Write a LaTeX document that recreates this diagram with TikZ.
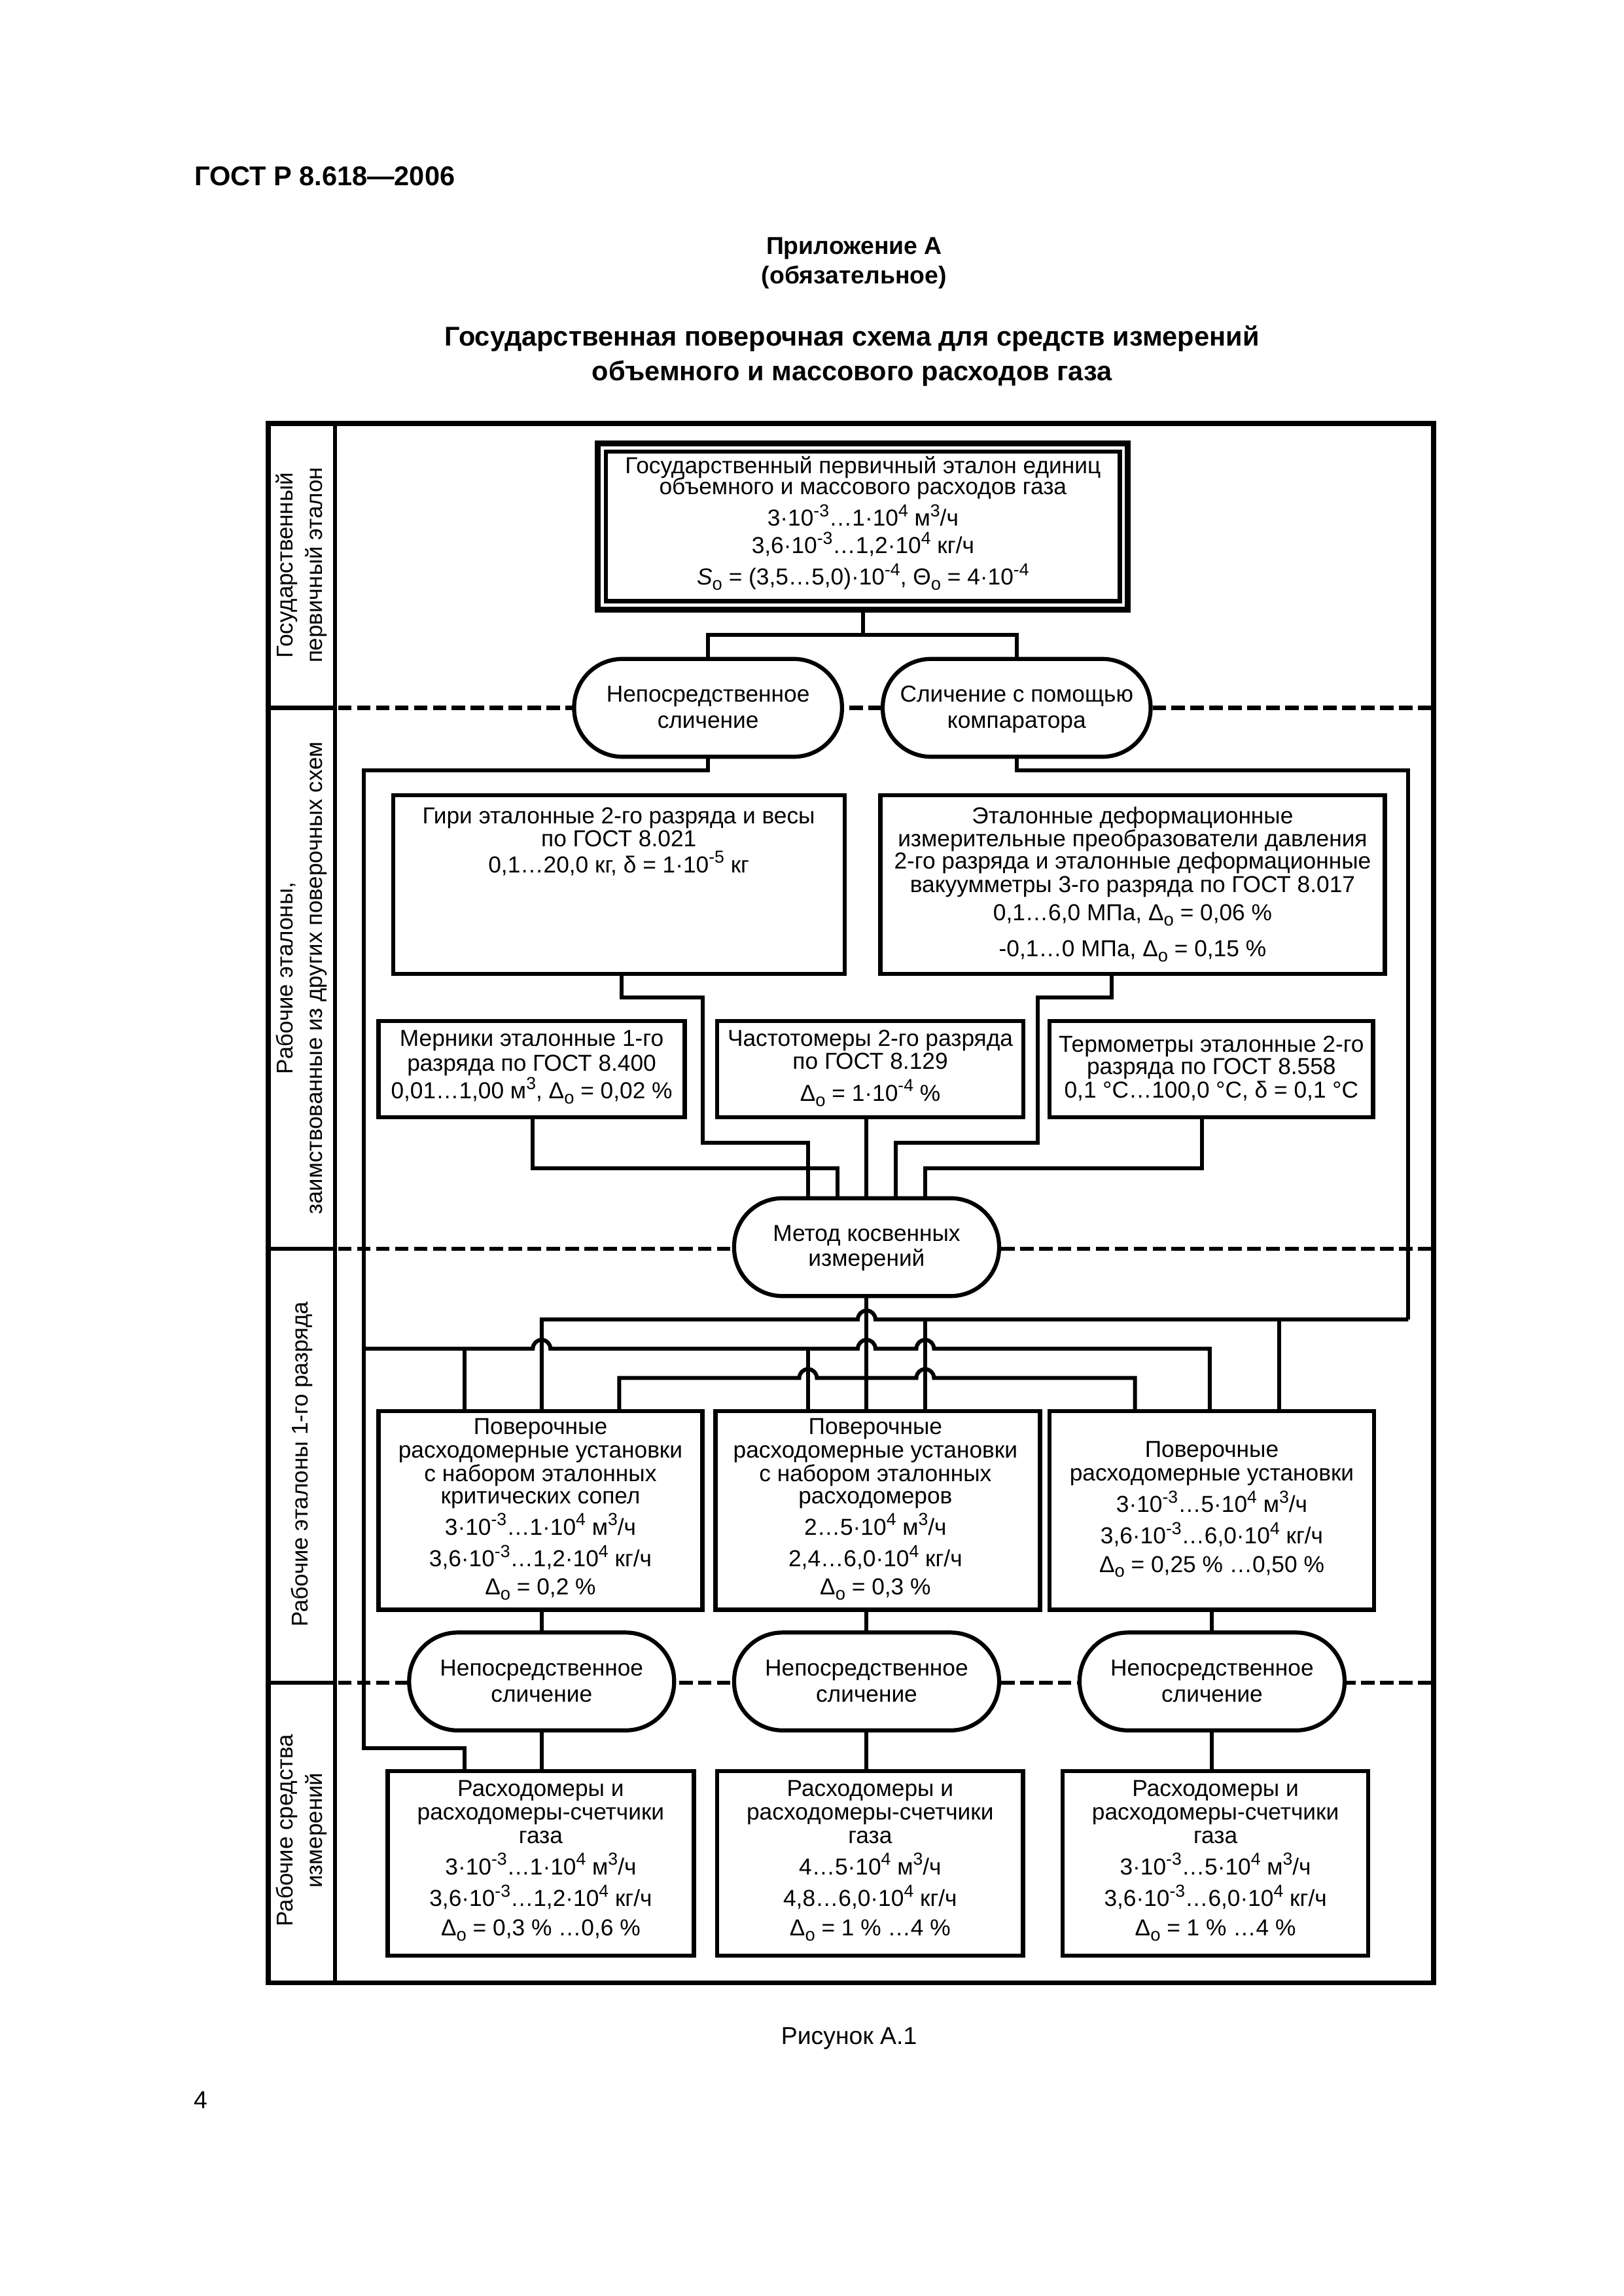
\documentclass[tikz,border=0pt]{standalone}
\usepackage{fontspec}
\setmainfont{Liberation Sans}
\usetikzlibrary{fit}
\newlength\U
\setlength\U{0.18936mm}
\newcommand\ts{\rule{0pt}{6.8pt}}
\newcommand\bxfont{\fontsize{8.5}{8.6}\selectfont\lineskiplimit=-100pt\relax}
\newcommand\lbfont{\fontsize{8.4}{10.7}\selectfont\lineskiplimit=-100pt\relax}
\newcommand\sups[1]{\raisebox{3.5pt}{\fontsize{6.4}{6.4}\selectfont #1}}
\newcommand\subs[1]{\raisebox{-1.9pt}{\fontsize{6.6}{6.6}\selectfont #1}}
\newcommand\dlt{Δ\subs{o}}
\begin{document}
\begin{tikzpicture}[x=0.18936mm,y=-0.18936mm,
  ln/.style={line width=1.5pt},
  frm/.style={line width=1.75pt},
  cn/.style={line width=1.45pt},
  dsh/.style={line width=1.5pt,dash pattern=on 1.75mm off 0.7mm},
  bx/.style={draw,line width=1.5pt,fill=white,inner sep=0pt,rectangle},
  ovl/.style={draw,line width=1.5pt,fill=white,rectangle,rounded corners=33*\U,inner sep=0pt,minimum height=66.8*\U,minimum width=182*\U},
  txt/.style={inner sep=0pt,align=center,anchor=north,font=\bxfont},
  lbl/.style={rotate=90,inner sep=0pt,align=center,font=\lbfont},
  hd/.style={inner sep=0pt,anchor=base},
  bumpr/.style 2 args={insert path={-- ({#1-6},#2) .. controls ({#1-6},{#2-3.3}) and ({#1-3.3},{#2-6}) .. ({#1},{#2-6}) .. controls ({#1+3.3},{#2-6}) and ({#1+6},{#2-3.3}) .. ({#1+6},#2)}}
]
\useasboundingbox (0,0) rectangle (1109,1568);

% page headings
\node[hd,anchor=base west,font=\bfseries\fontsize{10}{12}\selectfont] (gost) at (132.4,126.7) {ГОСТ Р 8.618—2006};
\node[hd,font=\bfseries\fontsize{9}{11}\selectfont] (app) at (583.5,173.6) {Приложение А};
\node[hd,font=\bfseries\fontsize{9}{11}\selectfont] (oblig) at (583.5,193.7) {(обязательное)};
\node[hd,font=\bfseries\fontsize{10}{12}\selectfont] (title1) at (582,236.2) {Государственная поверочная схема для средств измерений};
\node[hd,font=\bfseries\fontsize{10}{12}\selectfont] (title2) at (582,260) {объемного и массового расходов газа};
\node[hd,font=\fontsize{9}{11}\selectfont] (caption) at (580,1396) {Рисунок А.1};
\node[hd,font=\fontsize{9}{11}\selectfont] (pagenum) at (137,1440) {4};

% frame
\draw[frm] (183.3,289.2) rectangle (979.3,1354);
\draw[ln] (229,289.2) -- (229,1354);
\foreach \yy in {483.4,852.8,1149.2}{
  \draw[ln] (183.3,\yy) -- (229,\yy);
  \draw[dsh] (231,\yy) -- (979.3,\yy);
}

% section labels
\node[lbl] (lab1) at (206,386) {Государственный\\первичный эталон};
\node[lbl] (lab2) at (206,668) {Рабочие эталоны,\\заимствованные из других поверочных схем};
\node[lbl] (lab3) at (206,1000) {Рабочие эталоны 1-го разряда};
\node[lbl] (lab4) at (206,1250) {Рабочие средства\\измерений};

% primary standard
\node[bx,line width=2.2pt,fit={(408.5,303) (770.5,416.5)}] (prim) {};
\node[bx,fit={(414,308.5) (765,410.5)}] (primin) {};
\node[txt] (prim-t) at (589.5,310.35) {\ts Государственный первичный эталон единиц\\[-0.8pt]
объемного и массового расходов газа\\[3pt]
3·10\sups{-3}…1·10\sups{4} м\sups{3}/ч\\[1.5pt]
3,6·10\sups{-3}…1,2·10\sups{4} кг/ч\\[2.9pt]
\textit{S}\subs{o} = (3,5…5,0)·10\sups{-4}, Θ\subs{o} = 4·10\sups{-4}};

% comparison ovals (top)
\node[ovl,minimum width=183*\U] (ovA) at (483.7,483.4) {};
\node[ovl,minimum width=183*\U] (ovB) at (694.5,483.4) {};
\node[txt] (ovA-t) at (483.7,466.55) {\ts Непосредственное\\[1pt] сличение};
\node[txt] (ovB-t) at (694.5,466.55) {\ts Сличение с помощью\\[1pt] компаратора};

% borrowed working standards
\node[bx,fit={(268.5,543.2) (577,665.2)}] (giri) {};
\node[bx,fit={(601.4,543.2) (946,665.2)}] (defo) {};
\node[bx,fit={(258.6,697.4) (467.8,762.9)}] (merk) {};
\node[bx,fit={(490,697.4) (699,762.9)}] (chast) {};
\node[bx,fit={(717,697.4) (938,762.9)}] (term) {};
\node[txt] (giri-t) at (422.7,549.35) {\ts Гири эталонные 2-го разряда и весы\\
по ГОСТ 8.021\\[0.9pt]
0,1…20,0 кг, δ = 1·10\sups{-5} кг};
\node[txt] (defo-t) at (773.7,549.35) {\ts Эталонные деформационные\\
измерительные преобразователи давления\\[-0.4pt]
2-го разряда и эталонные деформационные\\
вакуумметры 3-го разряда по ГОСТ 8.017\\[1.8pt]
0,1…6,0 МПа, \dlt{} = 0,06 \%\\[4.6pt]
-0,1…0 МПа, \dlt{} = 0,15 \%};
\node[txt] (merk-t) at (363.2,701.55) {\ts Мерники эталонные 1-го\\[0.4pt]
разряда по ГОСТ 8.400\\[1.7pt]
0,01…1,00 м\sups{3}, \dlt{} = 0,02 \%};
\node[txt] (chast-t) at (594.5,701.55) {\ts Частотомеры 2-го разряда\\[-0.3pt]
по ГОСТ 8.129\\[3.3pt]
\dlt{} = 1·10\sups{-4} \%};
\node[txt] (term-t) at (827.5,705.55) {\ts Термометры эталонные 2-го\\[-0.4pt]
разряда по ГОСТ 8.558\\
0,1 °С…100,0 °С, δ = 0,1 °С};

% indirect method oval
\node[ovl,minimum width=181*\U] (metod) at (592,851.7) {};
\node[txt] (metod-t) at (592,834.75) {\ts Метод косвенных\\[0.6pt] измерений};

% working standards of 1st grade
\node[bx,fit={(258.6,963.7) (479.8,1099.3)}] (r3a) {};
\node[bx,fit={(488.8,963.7) (710.5,1099.3)}] (r3b) {};
\node[bx,fit={(717,963.7) (938.6,1099.3)}] (r3c) {};
\node[txt] (r3a-t) at (369.2,966.65) {\ts Поверочные\\
расходомерные установки\\
с набором эталонных\\[-0.4pt]
критических сопел\\[3pt]
3·10\sups{-3}…1·10\sups{4} м\sups{3}/ч\\[3pt]
3,6·10\sups{-3}…1,2·10\sups{4} кг/ч\\[1.8pt]
\dlt{} = 0,2 \%};
\node[txt] (r3b-t) at (598,966.65) {\ts Поверочные\\
расходомерные установки\\
с набором эталонных\\[-0.4pt]
расходомеров\\[3pt]
2…5·10\sups{4} м\sups{3}/ч\\[3pt]
2,4…6,0·10\sups{4} кг/ч\\[1.8pt]
\dlt{} = 0,3 \%};
\node[txt] (r3c-t) at (827.8,982.35) {\ts Поверочные\\
расходомерные установки\\[3pt]
3·10\sups{-3}…5·10\sups{4} м\sups{3}/ч\\[3pt]
3,6·10\sups{-3}…6,0·10\sups{4} кг/ч\\[1.8pt]
\dlt{} = 0,25 \% …0,50 \%};

% comparison ovals (bottom)
\node[ovl,minimum width=181*\U] (ov4a) at (370,1148.3) {};
\node[ovl,minimum width=181*\U] (ov4b) at (592,1148.3) {};
\node[ovl,minimum width=181*\U] (ov4c) at (828,1148.3) {};
\node[txt] (ov4a-t) at (370,1131.65) {\ts Непосредственное\\[1pt] сличение};
\node[txt] (ov4b-t) at (592,1131.65) {\ts Непосредственное\\[1pt] сличение};
\node[txt] (ov4c-t) at (828,1131.65) {\ts Непосредственное\\[1pt] сличение};

% working measuring instruments
\node[bx,fit={(264.8,1209.6) (474,1335.6)}] (r4a) {};
\node[bx,fit={(490,1209.6) (698.8,1335.6)}] (r4b) {};
\node[bx,fit={(726,1209.6) (934.6,1335.6)}] (r4c) {};
\node[txt] (r4a-t) at (369.4,1213.85) {\ts Расходомеры и\\
расходомеры-счетчики\\
газа\\[3pt]
3·10\sups{-3}…1·10\sups{4} м\sups{3}/ч\\[3pt]
3,6·10\sups{-3}…1,2·10\sups{4} кг/ч\\[2.2pt]
\dlt{} = 0,3 \% …0,6 \%};
\node[txt] (r4b-t) at (594.4,1213.85) {\ts Расходомеры и\\
расходомеры-счетчики\\
газа\\[3pt]
4…5·10\sups{4} м\sups{3}/ч\\[3pt]
4,8…6,0·10\sups{4} кг/ч\\[2.2pt]
\dlt{} = 1 \% …4 \%};
\node[txt] (r4c-t) at (830.3,1213.85) {\ts Расходомеры и\\
расходомеры-счетчики\\
газа\\[3pt]
3·10\sups{-3}…5·10\sups{4} м\sups{3}/ч\\[3pt]
3,6·10\sups{-3}…6,0·10\sups{4} кг/ч\\[2.2pt]
\dlt{} = 1 \% …4 \%};

% junction coordinates
\coordinate (jtop) at (589.5,433.4);
\coordinate (jL1) at (248.6,526.2);
\coordinate (jL2) at (248.6,1194);
\coordinate (jL3) at (317.5,1194);
\coordinate (jR1) at (962,526.2);
\coordinate (jR2) at (962,901);
\coordinate (jA1) at (370,901);
\coordinate (jA2) at (632,901);
\coordinate (jA3) at (874,901);
\coordinate (jB0) at (248.6,921);
\coordinate (jB1) at (317.5,921);
\coordinate (jB2) at (552,921);
\coordinate (jB3) at (826.4,921);
\coordinate (jC1) at (423,941);
\coordinate (jC3) at (775.3,941);
\coordinate (jg1) at (424.6,681.2);
\coordinate (jg2) at (480,681.2);
\coordinate (jg3) at (480,780.5);
\coordinate (jg4) at (552,780.5);
\coordinate (jd1) at (759.5,681.2);
\coordinate (jd2) at (708.8,681.2);
\coordinate (jd3) at (708.8,780.5);
\coordinate (jd4) at (612,780.5);
\coordinate (jm1) at (364,798);
\coordinate (jm2) at (572,798);
\coordinate (jt1) at (821.2,798);
\coordinate (jt2) at (632,798);

% connectors: primary standard
\draw[cn] (prim.south) -- (jtop);
\draw[cn] (ovA.north) |- (jtop) -| (ovB.north);
% left direct comparison line
\draw[cn] (ovA.south) |- (jL1) -- (jL2) -- (jL3) -- (jL3 |- r4a.north);
% comparator line
\draw[cn] (ovB.south) |- (jR1) -- (jR2);
\draw[cn] (jA1 |- r3a.north) -- (jA1) [bumpr={592}{901}] -- (jR2);
\draw[cn] (jA2) -- (jA2 |- r3b.north);
\draw[cn] (jA3) -- (jA3 |- r3c.north);
% line from left vertical
\draw[cn] (jB0) -- (jB1) [bumpr={370}{921}] [bumpr={592}{921}] [bumpr={632}{921}] -- (jB3) -- (jB3 |- r3c.north);
\draw[cn] (jB1) -- (jB1 |- r3a.north);
\draw[cn] (jB2) -- (jB2 |- r3b.north);
% indirect method line
\draw[cn] (jC1 |- r3a.north) -- (jC1) [bumpr={552}{941}] [bumpr={632}{941}] -- (jC3) -- (jC3 |- r3c.north);
\draw[cn] (metod.south) -- (metod.south |- r3b.north);
% inputs to the indirect method
\draw[cn] (giri.south -| jg1) -- (jg1) -- (jg2) -- (jg3) -- (jg4) -- (jg4 |- metod.north);
\draw[cn] (defo.south -| jd1) -- (jd1) -- (jd2) -- (jd3) -- (jd4) -- (jd4 |- metod.north);
\draw[cn] (merk.south -| jm1) -- (jm1) -- (jm2) -- (jm2 |- metod.north);
\draw[cn] (chast.south -| metod.north) -- (metod.north);
\draw[cn] (term.south -| jt1) -- (jt1) -- (jt2) -- (jt2 |- metod.north);
% bottom rows
\draw[cn] (r3a.south -| ov4a.north) -- (ov4a.north);
\draw[cn] (r3b.south -| ov4b.north) -- (ov4b.north);
\draw[cn] (r3c.south -| ov4c.north) -- (ov4c.north);
\draw[cn] (ov4a.south) -- (ov4a.south |- r4a.north);
\draw[cn] (ov4b.south) -- (ov4b.south |- r4b.north);
\draw[cn] (ov4c.south) -- (ov4c.south |- r4c.north);
\end{tikzpicture}
\end{document}
